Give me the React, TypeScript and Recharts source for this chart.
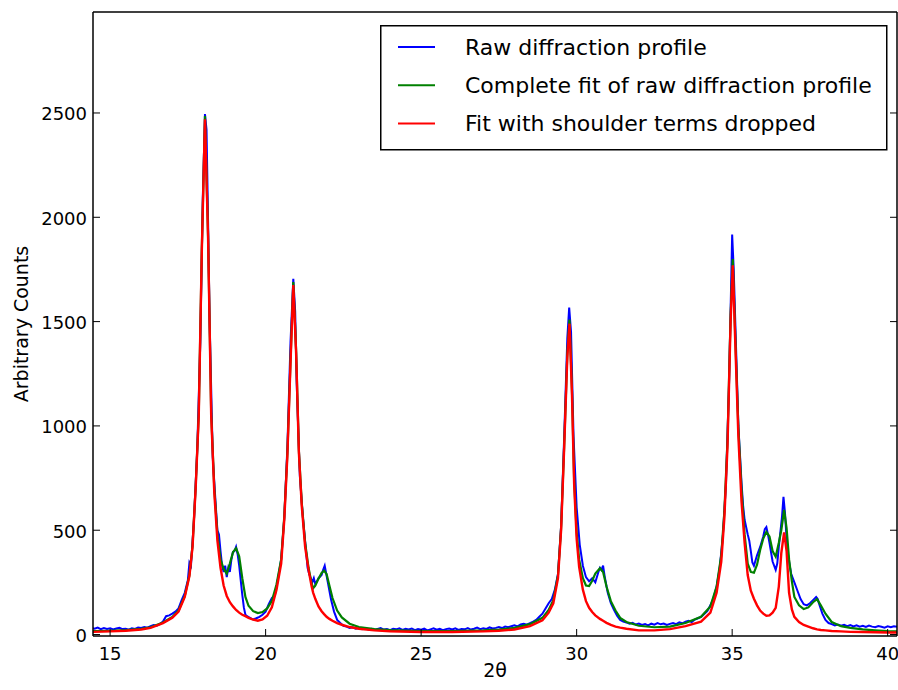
import { LineChart, Line, XAxis, YAxis, Legend } from 'recharts'

const FONT = '"DejaVu Sans", sans-serif'

const xTicks = [15, 20, 25, 30, 35, 40]
const yTicks = [0, 500, 1000, 1500, 2000, 2500]

const seriesNames = [
  'Raw diffraction profile',
  'Complete fit of raw diffraction profile',
  'Fit with shoulder terms dropped',
]

// 2θ grid of the two fitted curves
const fitAngles = [
  14.45, 15.0, 15.5, 16.0, 16.3, 16.7, 17.0, 17.2, 17.4, 17.55,
  17.65, 17.75, 17.85, 17.95, 18.05, 18.15, 18.25, 18.35, 18.45, 18.55,
  18.65, 18.75, 18.85, 18.95, 19.05, 19.15, 19.25, 19.35, 19.45, 19.6,
  19.75, 19.9, 20.05, 20.2, 20.35, 20.5, 20.6, 20.7, 20.8, 20.89,
  20.98, 21.07, 21.16, 21.27, 21.38, 21.48, 21.53, 21.6, 21.7, 21.8,
  21.88, 21.96, 22.05, 22.15, 22.3, 22.45, 22.7, 23.0, 23.5, 24.0,
  25.0, 26.0, 27.0, 27.5, 28.0, 28.5, 28.9, 29.1, 29.25, 29.4,
  29.5, 29.6, 29.7, 29.77, 29.85, 29.92, 30.0, 30.08, 30.2, 30.3,
  30.4, 30.5, 30.6, 30.75, 30.85, 30.96, 31.1, 31.25, 31.4, 31.6,
  32.0, 32.5, 33.0, 33.5, 34.0, 34.3, 34.5, 34.65, 34.75, 34.85,
  34.95, 35.02, 35.1, 35.2, 35.3, 35.4, 35.5, 35.6, 35.7, 35.8,
  35.9, 36.0, 36.1, 36.2, 36.3, 36.4, 36.5, 36.58, 36.67, 36.75,
  36.83, 36.92, 37.0, 37.15, 37.3, 37.45, 37.6, 37.73, 37.85, 38.0,
  38.2, 38.5, 38.8, 39.2, 39.6, 40.0, 40.3,
]

const completeFit = [
  16, 18, 21, 27, 35, 58, 84, 115, 185, 285,
  425, 705, 1055, 1860, 2485, 1910, 1060, 700, 480, 360,
  315, 292, 340, 395, 414, 375, 270, 180, 138, 112,
  103, 108, 125, 160, 240, 360, 565, 870, 1310, 1690,
  1365, 880, 635, 440, 320, 245, 222, 235, 268, 295,
  306, 290, 235, 175, 115, 82, 52, 36, 26, 21,
  17, 17, 20, 24, 32, 50, 80, 118, 165, 285,
  510, 910, 1345, 1510, 1170, 740, 490, 360, 270, 235,
  232, 258, 292, 318, 300, 230, 160, 115, 80, 60,
  42, 35, 38, 55, 85, 135, 230, 380, 590, 930,
  1530, 1800, 1430, 990, 700, 480, 340, 300, 296, 335,
  405, 460, 492, 470, 400, 373, 440, 500, 597, 510,
  360, 255, 180, 140, 122, 130, 155, 170, 140, 100,
  60, 40, 32, 25, 20, 16, 15,
]

const droppedFit = [
  13, 15, 18, 24, 32, 55, 80, 110, 180, 280,
  420, 700, 1050, 1850, 2470, 1900, 1050, 680, 450, 320,
  235, 185, 155, 135, 118, 105, 95, 88, 80, 72,
  66, 72, 90, 130, 215, 340, 550, 860, 1300, 1675,
  1350, 870, 620, 420, 310, 230, 200, 170, 135, 112,
  98, 85, 75, 66, 55, 47, 36, 28, 20, 16,
  12, 12, 15, 18, 24, 40, 68, 105, 150, 270,
  500, 900, 1330, 1490, 1150, 720, 460, 325, 215, 160,
  128, 108, 92, 75, 66, 56, 46, 38, 33, 28,
  20, 20, 26, 40, 62, 105, 200, 350, 560, 900,
  1500, 1770, 1400, 950, 640, 440, 285, 210, 172, 140,
  115, 100, 90, 92, 105, 128, 230, 390, 490, 400,
  200, 120, 85, 60, 46, 38, 30, 25, 22, 20,
  17, 15, 13, 12, 11, 10, 10,
]

const rawAngles = [
  14.45, 14.5, 14.6, 14.7, 14.8, 14.9, 15.0, 15.1, 15.2, 15.3,
  15.4, 15.5, 15.6, 15.7, 15.8, 15.9, 16.0, 16.1, 16.2, 16.3,
  16.4, 16.5, 16.6, 16.7, 16.8, 16.9, 17.0, 17.1, 17.2, 17.3,
  17.4, 17.5, 17.55, 17.6, 17.7, 17.8, 17.9, 17.98, 18.05, 18.1,
  18.15, 18.2, 18.3, 18.4, 18.45, 18.5, 18.55, 18.6, 18.65, 18.7,
  18.75, 18.8, 18.85, 18.9, 18.95, 19.0, 19.05, 19.1, 19.15, 19.2,
  19.25, 19.3, 19.35, 19.4, 19.5, 19.6, 19.7, 19.8, 19.9, 20.0,
  20.1, 20.2, 20.3, 20.4, 20.5, 20.6, 20.7, 20.8, 20.89, 20.95,
  21.0, 21.1, 21.2, 21.3, 21.35, 21.4, 21.5, 21.55, 21.6, 21.7,
  21.8, 21.85, 21.9, 21.95, 22.0, 22.1, 22.2, 22.3, 22.4, 22.5,
  22.6, 22.7, 22.8, 22.9, 23.0, 23.1, 23.2, 23.3, 23.4, 23.5,
  23.6, 23.7, 23.8, 23.9, 24.0, 24.1, 24.2, 24.3, 24.4, 24.5,
  24.6, 24.7, 24.8, 24.9, 25.0, 25.1, 25.2, 25.3, 25.4, 25.5,
  25.6, 25.7, 25.8, 25.9, 26.0, 26.1, 26.2, 26.3, 26.4, 26.5,
  26.6, 26.7, 26.8, 26.9, 27.0, 27.1, 27.2, 27.3, 27.4, 27.5,
  27.6, 27.7, 27.8, 27.9, 28.0, 28.1, 28.2, 28.3, 28.4, 28.5,
  28.6, 28.7, 28.8, 28.9, 29.0, 29.1, 29.2, 29.3, 29.4, 29.5,
  29.6, 29.7, 29.76, 29.82, 29.9, 30.0, 30.1, 30.2, 30.3, 30.4,
  30.5, 30.6, 30.7, 30.75, 30.8, 30.85, 30.9, 31.0, 31.1, 31.2,
  31.3, 31.4, 31.5, 31.6, 31.7, 31.8, 31.9, 32.0, 32.1, 32.2,
  32.3, 32.4, 32.5, 32.6, 32.7, 32.8, 32.9, 33.0, 33.1, 33.2,
  33.3, 33.4, 33.5, 33.6, 33.7, 33.8, 33.9, 34.0, 34.1, 34.2,
  34.3, 34.4, 34.5, 34.6, 34.7, 34.8, 34.9, 34.97, 35.0, 35.05,
  35.1, 35.2, 35.3, 35.35, 35.4, 35.5, 35.55, 35.6, 35.65, 35.7,
  35.8, 35.9, 36.0, 36.05, 36.1, 36.15, 36.2, 36.3, 36.4, 36.45,
  36.5, 36.6, 36.65, 36.7, 36.75, 36.8, 36.85, 36.9, 37.0, 37.1,
  37.2, 37.3, 37.4, 37.5, 37.6, 37.7, 37.75, 37.8, 37.9, 38.0,
  38.1, 38.2, 38.3, 38.4, 38.5, 38.6, 38.7, 38.8, 38.9, 39.0,
  39.1, 39.2, 39.3, 39.4, 39.5, 39.6, 39.7, 39.8, 39.9, 40.0,
  40.1, 40.2, 40.3,
]

const rawCounts = [
  30, 28, 33, 26, 31, 27, 30, 24, 29, 32,
  26, 28, 23, 30, 27, 34, 31, 36, 33, 40,
  45, 42, 50, 62, 88, 92, 100, 110, 125, 165,
  200, 260, 345, 330, 560, 880, 1400, 2090, 2495, 2420,
  1980, 1500, 850, 610, 500, 480, 400, 330, 300, 330,
  275, 320, 300, 360, 395, 400, 420, 385, 330, 260,
  190, 130, 95, 88, 80, 72, 78, 85, 95, 110,
  145, 175, 190, 270, 360, 560, 900, 1400, 1705, 1550,
  1200, 760, 560, 400, 320, 290, 250, 270, 240, 270,
  285, 310, 330, 290, 250, 170, 110, 70, 55, 42,
  38, 32, 35, 28, 31, 26, 30, 24, 28, 22,
  27, 31, 24, 26, 21, 28, 25, 30, 22, 27,
  24, 29, 21, 26, 23, 28, 20, 25, 30, 23,
  27, 21, 26, 29, 24, 30, 22, 27, 25, 31,
  24, 28, 33, 26, 30, 27, 34, 29, 32, 36,
  31, 38, 35, 40, 44, 39, 48, 52, 47, 55,
  62, 70, 85, 100, 125, 150, 170, 215, 290, 520,
  950, 1420, 1567, 1450, 950, 610, 430, 330, 275, 255,
  270, 250, 300, 320, 310, 330, 280, 200, 150, 118,
  90, 70, 62, 58, 52, 56, 48, 53, 46, 50,
  44, 52, 47, 55, 49, 53, 46, 51, 55, 50,
  58, 54, 62, 66, 60, 72, 78, 85, 98, 112,
  140, 175, 230, 320, 470, 720, 1200, 1700, 1917, 1750,
  1500, 1000, 730, 620, 550, 480, 450, 400, 345, 330,
  380, 420, 470, 505, 515, 480, 440, 350, 310, 340,
  420, 560, 660, 580, 460, 380, 330, 290, 250, 210,
  170, 145, 140, 150, 165, 180, 170, 145, 100, 70,
  55, 50, 44, 48, 42, 47, 40, 45, 39, 44,
  38, 42, 36, 43, 38, 35, 41, 37, 33, 39,
  35, 40, 37,
]

const fitData = fitAngles.map((angle, i) => ({
  angle,
  complete: completeFit[i],
  dropped: droppedFit[i],
}))

const rawData = rawAngles.map((angle, i) => ({ angle, counts: rawCounts[i] }))

const TICK = 7

// matplotlib-style ticks point into the plot, labels stay outside
const BottomTick = ({ x, y, payload }: any) => (
  <g>
    <line x1={x} x2={x} y1={y} y2={y - TICK} stroke="#000" strokeWidth={1} />
    <text x={x} y={y + 24} textAnchor="middle" fontSize={18} fontFamily={FONT} fill="#000">
      {payload.value}
    </text>
  </g>
)

const TopTick = ({ x, y }: any) => (
  <line x1={x} x2={x} y1={y} y2={y + TICK} stroke="#000" strokeWidth={1} />
)

const LeftTick = ({ x, y, payload }: any) => (
  <g>
    <line x1={x} x2={x + TICK} y1={y} y2={y} stroke="#000" strokeWidth={1} />
    <text x={x - 6} y={y + 7.5} textAnchor="end" fontSize={18} fontFamily={FONT} fill="#000">
      {payload.value}
    </text>
  </g>
)

const RightTick = ({ x, y }: any) => (
  <line x1={x} x2={x - TICK} y1={y} y2={y} stroke="#000" strokeWidth={1} />
)

const LegendBox = ({ payload }: any) => {
  // keep the plotting order, recharts sorts the payload by name otherwise
  const items = [...(payload || [])].sort(
    (a: any, b: any) => seriesNames.indexOf(a.value) - seriesNames.indexOf(b.value)
  )
  return (
    <svg width={508} height={126} style={{ display: 'block' }}>
      <rect x={0.75} y={0.75} width={506} height={124} fill="#fff" stroke="#000" strokeWidth={1.5} />
      {items.map((entry: any, i: number) => (
        <g key={entry.value}>
          <line x1={18} x2={55} y1={22 + i * 38.2} y2={22 + i * 38.2} stroke={entry.color} strokeWidth={2} />
          <text x={85} y={30 + i * 38.2} fontSize={22} fontFamily={FONT} fill="#000">
            {entry.value}
          </text>
        </g>
      ))}
    </svg>
  )
}

export default function App() {
  return (
    <div style={{ position: 'absolute', left: 0, top: 0, width: 898, height: 690, background: '#fff' }}>
      <LineChart width={898} height={690} margin={{ top: 0, right: 0, bottom: 0, left: 0 }}>
        <XAxis
          xAxisId="x"
          dataKey="angle"
          type="number"
          domain={[14.45, 40.3]}
          ticks={xTicks}
          interval={0}
          height={54}
          tickSize={0}
          tickMargin={0}
          tickLine={false}
          tick={<BottomTick />}
          axisLine={{ stroke: '#000', strokeWidth: 1.5 }}
          allowDataOverflow
          label={{
            content: () => (
              <text x={495} y={677} textAnchor="middle" fontSize={19} fontFamily={FONT} fill="#000">
                2θ
              </text>
            ),
          }}
        />
        <XAxis
          xAxisId="top"
          orientation="top"
          type="number"
          domain={[14.45, 40.3]}
          ticks={xTicks}
          interval={0}
          height={12}
          tickSize={0}
          tickMargin={0}
          tickLine={false}
          tick={<TopTick />}
          axisLine={{ stroke: '#000', strokeWidth: 1.5 }}
          allowDataOverflow
        />
        <YAxis
          yAxisId="y"
          type="number"
          domain={[-7, 2984]}
          ticks={yTicks}
          interval={0}
          width={93}
          tickSize={0}
          tickMargin={0}
          tickLine={false}
          tick={<LeftTick />}
          axisLine={{ stroke: '#000', strokeWidth: 1.5 }}
          allowDataOverflow
          label={{
            content: () => (
              <text
                x={28}
                y={324}
                transform="rotate(-90 28 324)"
                textAnchor="middle"
                fontSize={19}
                fontFamily={FONT}
                fill="#000"
              >
                Arbitrary Counts
              </text>
            ),
          }}
        />
        <YAxis
          yAxisId="right"
          orientation="right"
          type="number"
          domain={[-7, 2984]}
          ticks={yTicks}
          interval={0}
          width={1}
          tickSize={0}
          tickMargin={0}
          tickLine={false}
          tick={<RightTick />}
          axisLine={{ stroke: '#000', strokeWidth: 1.5 }}
          allowDataOverflow
        />
        <Legend
          verticalAlign="middle"
          align="center"
          content={<LegendBox />}
          wrapperStyle={{ left: 380, top: 25, width: 508, height: 126 }}
        />
        <Line
          xAxisId="x"
          yAxisId="y"
          data={rawData}
          dataKey="counts"
          name={seriesNames[0]}
          type="linear"
          stroke="#0000ff"
          strokeWidth={2}
          dot={false}
          activeDot={false}
          isAnimationActive={false}
        />
        <Line
          xAxisId="x"
          yAxisId="y"
          data={fitData}
          dataKey="complete"
          name={seriesNames[1]}
          type="linear"
          stroke="#008000"
          strokeWidth={2.2}
          dot={false}
          activeDot={false}
          isAnimationActive={false}
        />
        <Line
          xAxisId="x"
          yAxisId="y"
          data={fitData}
          dataKey="dropped"
          name={seriesNames[2]}
          type="linear"
          stroke="#ff0000"
          strokeWidth={2.4}
          dot={false}
          activeDot={false}
          isAnimationActive={false}
        />
      </LineChart>
    </div>
  )
}
